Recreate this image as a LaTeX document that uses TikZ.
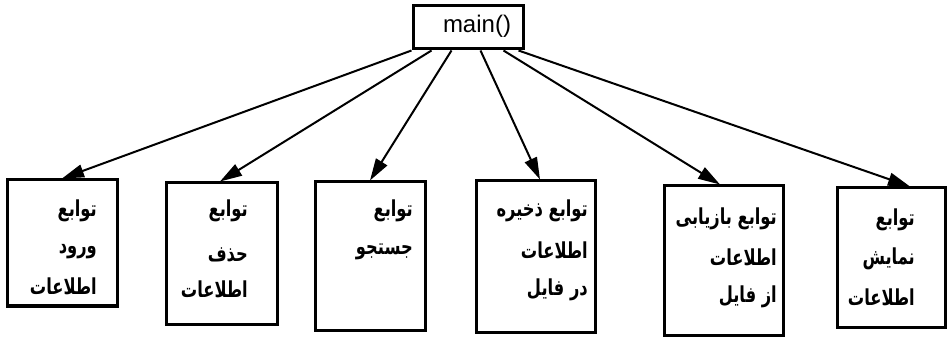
\documentclass[tikz,border=0pt]{standalone}
\usepackage{fontspec}
\setmainfont{Liberation Sans}
\newfontfamily\arabicfont[Script=Arabic,FakeStretch=0.74]{DejaVu Sans}
\TeXXeTstate=1
\usetikzlibrary{arrows.meta,calc}
\begin{document}
\begin{tikzpicture}[x=1pt,y=-1pt,
  box/.style={draw, line width=3pt, inner sep=0pt, fill=white},
  arr/.style={line width=2pt, -{Triangle[length=22pt,width=13pt]}},
  fa/.style={anchor=east, inner sep=0pt, font=\arabicfont\bfseries\fontsize{22}{25}\selectfont},
  mainfont/.style={font=\fontsize{24}{27}\selectfont}]
\useasboundingbox (0,0) rectangle (951,339);
% main box
\node[box, minimum width=110pt, minimum height=43pt] (m) at (468,27.5) {};
\node[mainfont, inner sep=0pt] (mt) at (477,26) {main()};
% child boxes
\node[box, minimum width=110pt, minimum height=126pt] (b1) at (62,243) {};
\node[box, minimum width=111pt, minimum height=141pt] (b2) at (221.5,253.5) {};
\node[box, minimum width=110pt, minimum height=148pt] (b3) at (370,256) {};
\node[box, minimum width=119pt, minimum height=151pt] (b4) at (535.5,256.5) {};
\node[box, minimum width=119pt, minimum height=149pt] (b5) at (723.5,260.5) {};
\node[box, minimum width=108pt, minimum height=139pt] (b6) at (891,257.5) {};
% start points on main box
\coordinate (s1) at ($(m.south west)+(0,0)$);
\coordinate (s2) at ($(m.south west)+(20,0)$);
\coordinate (s3) at ($(m.south west)+(40,0)$);
\coordinate (s4) at ($(m.south west)+(69,0)$);
\coordinate (s5) at ($(m.south west)+(92,0)$);
\coordinate (s6) at ($(m.south west)+(107,0)$);
% arrows
\draw[arr] (s1) -- (b1.north);
\draw[arr] (s2) -- ($(b2.north)+(-1.5,0)$);
\draw[arr] (s3) -- (b3.north);
\draw[arr] (s4) -- ($(b4.north)+(4.5,0)$);
\draw[arr] (s5) -- ($(b5.north)+(-3.5,0)$);
\draw[arr] (s6) -- ($(b6.north)+(19,0)$);
% texts
\node[fa] (t11) at (97,211) {\beginR توابع\endR};
\node[fa] (t12) at (97,252) {\beginR ورود\endR};
\node[fa] (t13) at (97,286) {\beginR اطلاعات\endR};
\node[fa] (t21) at (248,211) {\beginR توابع\endR};
\node[fa] (t22) at (248,255) {\beginR حذف\endR};
\node[fa] (t23) at (248,289) {\beginR اطلاعات\endR};
\node[fa] (t31) at (413,211) {\beginR توابع\endR};
\node[fa] (t32) at (413,252) {\beginR جستجو\endR};
\node[fa] (t41) at (588,211) {\beginR توابع ذخیره\endR};
\node[fa] (t42) at (588,250) {\beginR اطلاعات\endR};
\node[fa] (t43) at (588,290) {\beginR در فایل\endR};
\node[fa] (t51) at (777,219) {\beginR توابع بازیابی\endR};
\node[fa] (t52) at (777,257) {\beginR اطلاعات\endR};
\node[fa] (t53) at (777,297) {\beginR از فایل\endR};
\node[fa] (t61) at (915,220) {\beginR توابع\endR};
\node[fa] (t62) at (915,259) {\beginR نمایش\endR};
\node[fa] (t63) at (915,297) {\beginR اطلاعات\endR};
\end{tikzpicture}
\end{document}
